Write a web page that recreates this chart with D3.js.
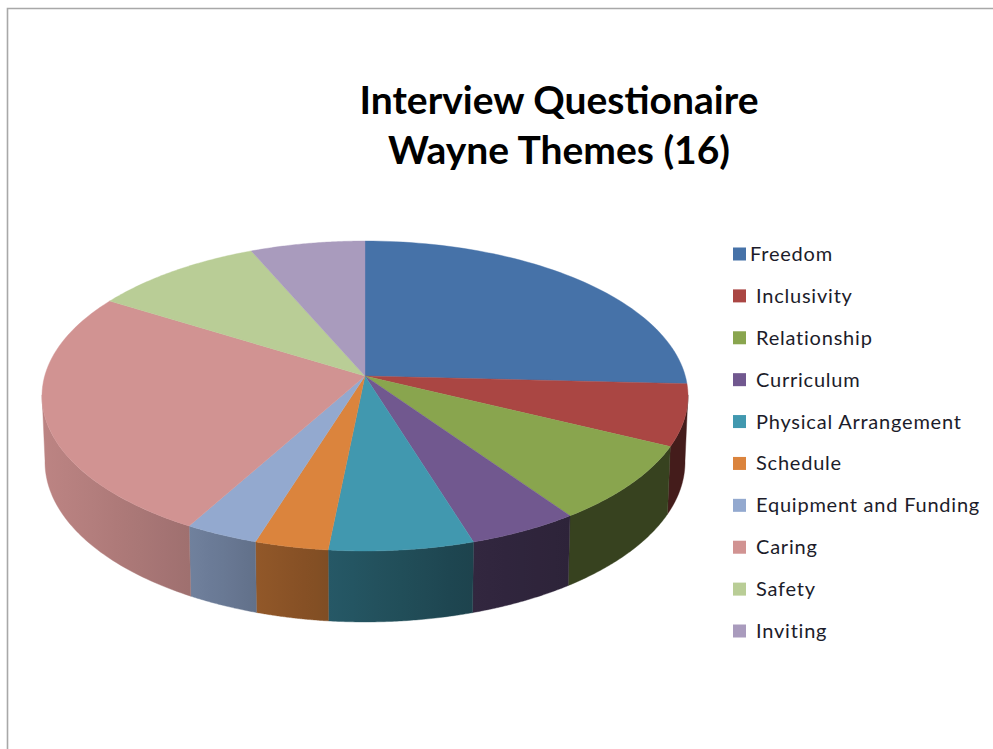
<!DOCTYPE html>
<html>
<head>
<meta charset="utf-8">
<style>
  html, body { margin: 0; padding: 0; background: #fff; }
  svg { display: block; }
</style>
<script src="https://cdnjs.cloudflare.com/ajax/libs/d3/7.8.5/d3.min.js"></script>
</head>
<body>
<svg id="chart" width="993" height="749"></svg>
<script>
// Chart content
const titleLines = ["Interview Questionaire", "Wayne Themes (16)"];
const categories = ["Freedom", "Inclusivity", "Relationship", "Curriculum", "Physical Arrangement",
                    "Schedule", "Equipment and Funding", "Caring", "Safety", "Inviting"];
const shares = [25.8, 6.4, 8.1, 4.9, 6.4, 3.25, 3.25, 25.7, 9.7, 6.5];
const palette = ["#4672a8", "#aa4643", "#89a54e", "#71588f", "#4198af",
                 "#db843d", "#93a9cf", "#d19392", "#b9cd96", "#a99bbd"];

const svg = d3.select("#chart");
const defs = svg.append("defs");

// Frame on the left and top edges
svg.append("path")
  .attr("d", "M7.5,749V8.5H993")
  .attr("fill", "none")
  .attr("stroke", "#a8a8a8")
  .attr("stroke-width", 1.6);

// Title
svg.append("g").selectAll("text").data(titleLines).join("text")
  .attr("x", 559)
  .attr("y", (d, i) => 114 + i * 50)
  .attr("text-anchor", "middle")
  .attr("font-family", "Lato, 'Open Sans', sans-serif")
  .attr("font-weight", 700)
  .attr("font-size", 39)
  .attr("fill", "#000")
  .text(d => d);

// Perspective tilt of the disc: maps an angle and radius on the unit circle to the upper face
const cx = 365, apexY = 376, tilt = -0.129, spanX = 320.3, spanY = 103.9;
function topPoint(angle, r = 1) {
  const x = r * Math.sin(angle), y = -r * Math.cos(angle);
  const w = 1 + tilt * y;
  return [cx + spanX * x / w, (apexY + spanY * y) / w];
}
// The lower rim is the upper rim moved down and slightly narrowed
const faceMidY = 396, rimMidY = 462, rimScaleX = 320 / 323, rimScaleY = 160 / 155;
function rimPoint(angle) {
  const [x, y] = topPoint(angle);
  return [cx + (x - cx) * rimScaleX, rimMidY + (y - faceMidY) * rimScaleY];
}

const arcs = d3.pie().sort(null).value(d => d)(shares);
const line = d3.line();
const sample = (a0, a1) => d3.range(0, 61).map(i => a0 + (a1 - a0) * i / 60);

// Side wall brightness falls off from left to right
const wallShade = d3.scaleLinear()
  .domain([45, 190, 260, 330, 472, 568, 690])
  .range([0.90, 0.76, 0.66, 0.58, 0.44, 0.40, 0.40])
  .clamp(true);

const frontStart = 97 * Math.PI / 180, frontEnd = 263 * Math.PI / 180;
const walls = arcs
  .map((a, i) => ({ a0: Math.max(a.startAngle, frontStart), a1: Math.min(a.endAngle, frontEnd), i }))
  .filter(d => d.a1 > d.a0);

walls.forEach(d => {
  const xs = [topPoint(d.a0)[0], topPoint(d.a1)[0]];
  const x0 = Math.min(...xs), x1 = Math.max(...xs);
  const grad = defs.append("linearGradient")
    .attr("id", "wall" + d.i)
    .attr("gradientUnits", "userSpaceOnUse")
    .attr("x1", x0).attr("x2", x1).attr("y1", 0).attr("y2", 0);
  d3.range(0, 7).forEach(k => {
    const t = k / 6, shade = wallShade(x0 + (x1 - x0) * t), c = d3.rgb(palette[d.i]);
    grad.append("stop")
      .attr("offset", t)
      .attr("stop-color", d3.rgb(c.r * shade, c.g * shade, c.b * shade).formatHex());
  });
});

// Side walls
svg.append("g").selectAll("path").data(walls).join("path")
  .attr("d", d => {
    const angles = sample(d.a0, d.a1);
    return line([...angles.map(a => topPoint(a)), ...angles.slice().reverse().map(rimPoint)]) + "Z";
  })
  .attr("fill", d => `url(#wall${d.i})`)
  .attr("stroke", d => `url(#wall${d.i})`)
  .attr("stroke-width", 0.4);

// Upper face
svg.append("g").selectAll("path").data(arcs).join("path")
  .attr("d", d => line([topPoint(0, 0), ...sample(d.startAngle, d.endAngle).map(a => topPoint(a))]) + "Z")
  .attr("fill", (d, i) => palette[i])
  .attr("stroke", (d, i) => palette[i])
  .attr("stroke-width", 0.4);

// Legend
const legendY = d3.scalePoint().domain(categories).range([254, 631]);
const legend = svg.append("g").selectAll("g").data(categories).join("g")
  .attr("transform", d => `translate(733,${legendY(d)})`);
legend.append("rect")
  .attr("x", 0).attr("y", -6.5).attr("width", 13).attr("height", 13)
  .attr("fill", (d, i) => palette[i]);
legend.append("text")
  .attr("x", (d, i) => i === 0 ? 17 : 23)
  .attr("y", 7)
  .attr("font-family", "Lato, 'Open Sans', sans-serif")
  .attr("font-size", 20)
  .attr("letter-spacing", 0.78)
  .attr("fill", "#1c1c2a")
  .text(d => d);
</script>
</body>
</html>
